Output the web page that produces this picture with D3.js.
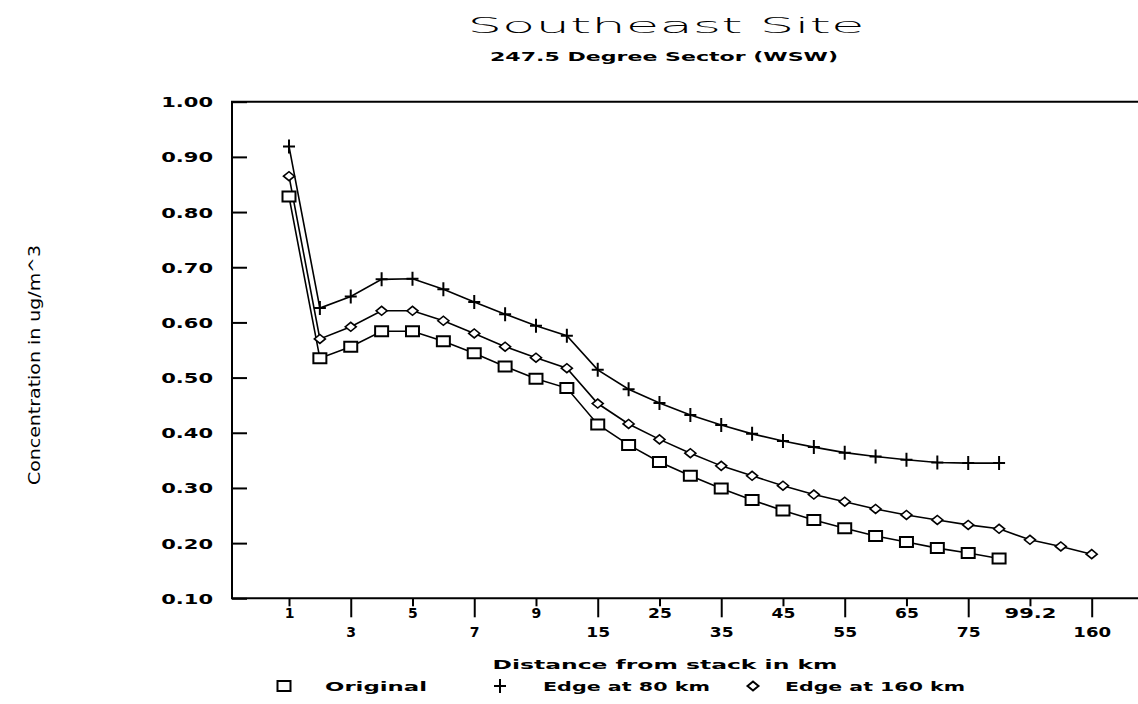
<!DOCTYPE html>
<html>
<head>
<meta charset="utf-8">
<script src="https://cdn.jsdelivr.net/npm/d3@7"></script>
<style>
  html, body { margin: 0; padding: 0; background: #fff; }
  svg { display: block; }
  .lbl { font-family: "DejaVu Sans", sans-serif; font-weight: bold; fill: #000; }
</style>
</head>
<body>
<div id="chart"></div>
<script>
  "use strict";

  // distance categories (km); only every other one gets a label
  var distances = ["1", "2", "3", "4", "5", "6", "7", "8", "9", "10", "15", "20", "25", "30",
    "35", "40", "45", "50", "55", "60", "65", "70", "75", "80", "99.2", "120", "160"];

  var yTicks = [0.1, 0.2, 0.3, 0.4, 0.5, 0.6, 0.7, 0.8, 0.9, 1.0];

  var original = [0.828, 0.535, 0.556, 0.584, 0.584, 0.566, 0.544, 0.520, 0.498, 0.481, 0.415,
    0.378, 0.347, 0.322, 0.299, 0.278, 0.259, 0.242, 0.227, 0.213, 0.202, 0.191, 0.182, 0.172];

  var edge80 = [0.919, 0.626, 0.647, 0.678, 0.679, 0.660, 0.637, 0.615, 0.594, 0.576, 0.514,
    0.479, 0.454, 0.432, 0.414, 0.398, 0.385, 0.374, 0.364, 0.357, 0.351, 0.346, 0.345, 0.345];

  var edge160 = [0.865, 0.570, 0.592, 0.621, 0.621, 0.603, 0.580, 0.556, 0.536, 0.517, 0.453,
    0.416, 0.388, 0.363, 0.340, 0.322, 0.304, 0.288, 0.275, 0.262, 0.251, 0.242, 0.233, 0.226,
    0.206, 0.194, 0.180];

  var series = [
    {name: "Original", values: original, marker: "square"},
    {name: "Edge at 80 km", values: edge80, marker: "plus"},
    {name: "Edge at 160 km", values: edge160, marker: "diamond"}
  ];

  var width = 1138, height = 704;
  var frame = {left: 232, right: 1138, top: 101.7, bottom: 598.3};

  var svg = d3.select("#chart").append("svg")
    .attr("width", width)
    .attr("height", height);

  var x = d3.scalePoint().domain(distances).range([289, 1091.7]);
  var y = d3.scaleLinear().domain([0.1, 1.0]).range([frame.bottom, frame.top]);

  // spread text out like the plotter font
  function spaced(sel, pitch) {
    sel.each(function () {
      var t = d3.select(this), n = t.text().length;
      if (n > 1) t.attr("textLength", pitch * n - pitch * 0.3).attr("lengthAdjust", "spacingAndGlyphs");
    });
    return sel;
  }

  // frame: left, top and bottom lines
  svg.append("path")
    .attr("d", "M" + frame.right + "," + frame.top + "H" + frame.left + "V" + frame.bottom + "H" + frame.right)
    .attr("fill", "none")
    .attr("stroke", "#000")
    .attr("stroke-width", 2);

  // y axis, ticks point inward
  var yAxis = svg.append("g")
    .attr("transform", "translate(" + frame.left + ",0)")
    .call(d3.axisLeft(y).tickValues(yTicks).tickFormat(d3.format(".2f")).tickSizeInner(-15).tickSizeOuter(0).tickPadding(19));
  yAxis.select(".domain").remove();
  yAxis.selectAll(".tick line").attr("stroke", "#000").attr("stroke-width", 2);
  yAxis.selectAll(".tick text")
    .attr("class", "lbl")
    .attr("font-size", 14)
    .attr("dy", "0.36em")
    .call(spaced, 14);

  // x axis, labels staggered on two rows
  var xTickValues = distances.filter(function (d, i) { return i % 2 === 0; });
  var xAxis = svg.append("g")
    .attr("transform", "translate(0," + frame.bottom + ")")
    .call(d3.axisBottom(x).tickValues(xTickValues).tickSizeOuter(0));
  xAxis.select(".domain").remove();
  xAxis.selectAll(".tick line")
    .attr("stroke", "#000")
    .attr("stroke-width", 2)
    .attr("y2", function (d, i) { return i % 2 === 0 ? 8 : 19; });
  xAxis.selectAll(".tick text")
    .attr("class", "lbl")
    .attr("font-size", 14)
    .attr("dy", null)
    .attr("y", function (d, i) { return i % 2 === 0 ? 20 : 39; })
    .call(spaced, 14);

  // lines
  var line = d3.line()
    .x(function (d, i) { return x(distances[i]); })
    .y(function (d) { return y(d); });

  svg.append("g").selectAll("path")
    .data(series)
    .join("path")
    .attr("d", function (s) { return line(s.values); })
    .attr("fill", "none")
    .attr("stroke", "#000")
    .attr("stroke-width", 1.6);

  function markerPath(kind) {
    if (kind === "square") return "M-6.5,-5H6.5V5H-6.5Z";
    if (kind === "plus") return "M-6,0H6M0,-7V7";
    return "M-5.5,0L0,-4.5L5.5,0L0,4.5Z";
  }

  series.forEach(function (s) {
    svg.append("g").selectAll("path")
      .data(s.values)
      .join("path")
      .attr("transform", function (d, i) { return "translate(" + x(distances[i]) + "," + y(d) + ")"; })
      .attr("d", markerPath(s.marker))
      .attr("fill", s.marker === "plus" ? "none" : "#fff")
      .attr("stroke", "#000")
      .attr("stroke-width", s.marker === "diamond" ? 1.6 : 2);
  });

  // titles
  svg.append("text")
    .attr("x", 666).attr("y", 33)
    .attr("text-anchor", "middle")
    .attr("font-family", "DejaVu Sans, sans-serif")
    .attr("font-weight", 300)
    .attr("font-size", 22)
    .attr("textLength", 397).attr("lengthAdjust", "spacingAndGlyphs")
    .text("Southeast Site");

  svg.append("text")
    .attr("class", "lbl")
    .attr("x", 664).attr("y", 61)
    .attr("text-anchor", "middle")
    .attr("font-size", 13)
    .attr("textLength", 348).attr("lengthAdjust", "spacingAndGlyphs")
    .text("247.5 Degree Sector (WSW)");

  svg.append("text")
    .attr("class", "lbl")
    .attr("x", 665).attr("y", 669)
    .attr("text-anchor", "middle")
    .attr("font-size", 13)
    .attr("textLength", 345).attr("lengthAdjust", "spacingAndGlyphs")
    .text("Distance from stack in km");

  svg.append("text")
    .attr("transform", "translate(40,365) rotate(-90)")
    .attr("text-anchor", "middle")
    .attr("font-family", "DejaVu Sans, sans-serif")
    .attr("font-size", 16)
    .attr("textLength", 240).attr("lengthAdjust", "spacingAndGlyphs")
    .text("Concentration in ug/m^3");

  // legend
  var legendItems = [
    {marker: "square", mx: 284, tx: 325, len: 102},
    {marker: "plus", mx: 500, tx: 543, len: 167},
    {marker: "diamond", mx: 753, tx: 785, len: 180}
  ];
  var legend = svg.append("g").selectAll("g")
    .data(legendItems.map(function (d, i) { return Object.assign({name: series[i].name}, d); }))
    .join("g");
  legend.append("path")
    .attr("transform", function (d) { return "translate(" + d.mx + ",686)"; })
    .attr("d", function (d) { return markerPath(d.marker); })
    .attr("fill", "none")
    .attr("stroke", "#000")
    .attr("stroke-width", 2);
  legend.append("text")
    .attr("class", "lbl")
    .attr("x", function (d) { return d.tx; })
    .attr("y", 691)
    .attr("font-size", 13)
    .attr("textLength", function (d) { return d.len; })
    .attr("lengthAdjust", "spacingAndGlyphs")
    .text(function (d) { return d.name; });
</script>
</body>
</html>
